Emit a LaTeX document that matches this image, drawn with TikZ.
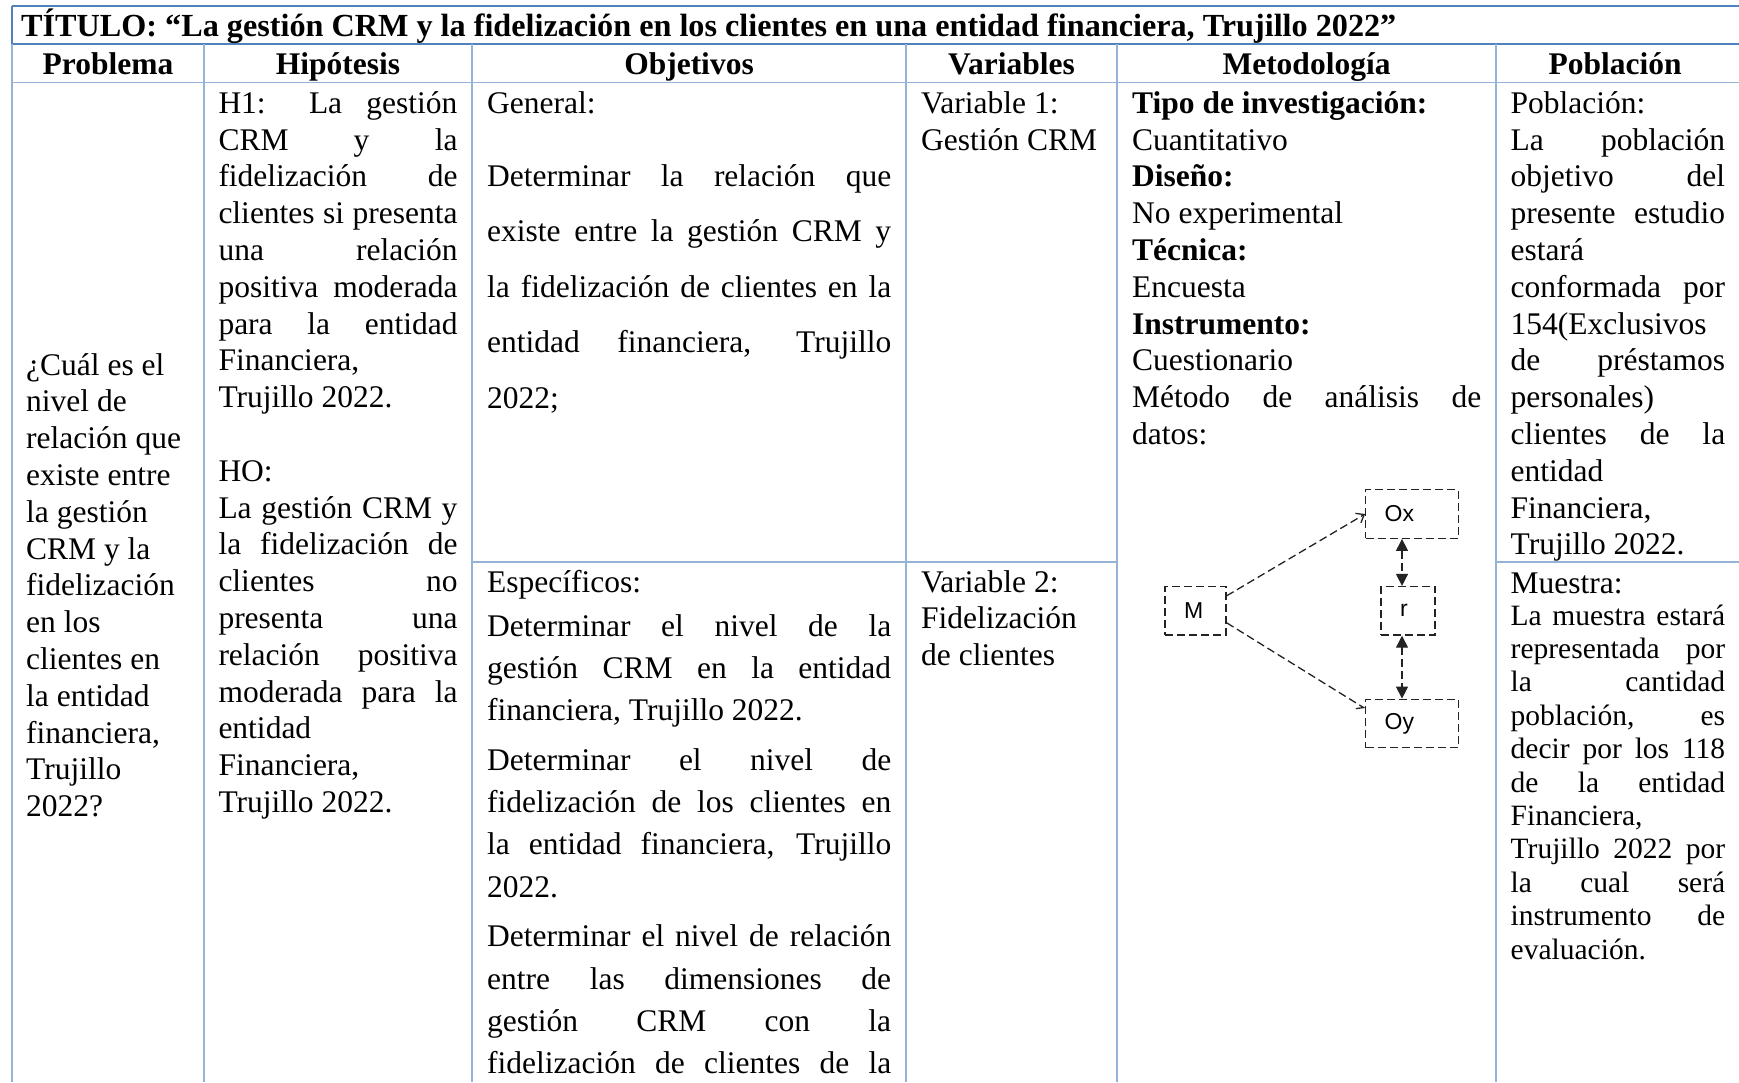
\documentclass[tikz,border=0pt]{standalone}
\usepackage{fontspec}
\setmainfont{Liberation Serif}
\newfontfamily\diagfont{Liberation Sans}
\usepackage{tikz}
\usetikzlibrary{arrows.meta}
\definecolor{lineblue}{RGB}{149, 179, 215}
\definecolor{titleblue}{RGB}{79, 129, 189}
\definecolor{dashgray}{RGB}{35, 35, 35}
\newcommand{\jl}[1]{{\spaceskip=0pt\xspaceskip=0pt\makebox[\hsize][s]{#1}}}

\begin{document}
\begin{tikzpicture}[x=1pt, y=-1pt,
    thinline/.style={draw=lineblue, line width=1.3pt},
    thickline/.style={draw=titleblue, line width=2pt},
    txt/.style={anchor=base west, inner sep=0pt, align=left, font=\fontsize{31.5}{36.8}\selectfont,
      execute at begin node={\spaceskip=0pt\xspaceskip=0pt}},
    hdr/.style={anchor=base, inner sep=0pt, font=\fontsize{31.5}{36.8}\selectfont\bfseries},
    dbox/.style={draw=dashgray, dash pattern=on 8pt off 4pt, line width=1.3pt, inner xsep=19pt, inner ysep=0pt,
      minimum height=48.5pt, text width=#1, align=left, font=\diagfont\fontsize{23}{26}\selectfont},
    dline/.style={draw=dashgray, dash pattern=on 8pt off 4pt, line width=1.3pt}]
  \useasboundingbox (0, 0) rectangle (1739, 1082);

  % Title row
  \draw[thickline] (12, 6) -- (1739, 6);
  \draw[thickline] (12, 43.7) -- (1739, 43.7);
  \draw[thickline] (12, 6) -- (12, 43.7);
  \node[hdr, anchor=base west, font=\fontsize{32.2}{36.8}\selectfont\bfseries] (title) at (21, 36.7) {TÍTULO: “La gestión CRM y la fidelización en los clientes en una entidad financiera, Trujillo 2022”};

  % Grid
  \draw[thinline] (12, 43.7) -- (12, 1082);
  \foreach \cx in {204, 472, 906, 1117, 1496} {
    \draw[thinline] (\cx, 43.7) -- (\cx, 1082);
  }
  \draw[thinline] (12, 82.3) -- (1739, 82.3);
  \draw[thinline] (472, 562) -- (1117, 562);
  \draw[thinline] (1496, 562) -- (1739, 562);

  % Header row
  \node[hdr] (hprob) at (108, 74) {Problema};
  \node[hdr] (hhip) at (338, 74) {Hipótesis};
  \node[hdr] (hobj) at (689, 74) {Objetivos};
  \node[hdr] (hvar) at (1011.5, 74) {Variables};
  \node[hdr] (hmet) at (1306.5, 74) {Metodología};
  \node[hdr] (hpob) at (1615, 74) {Población};

  % Problema
  \node[txt, text width=170] (prob) at (26, 375) {¿Cuál es el\\nivel de\\relación que\\existe entre\\la gestión\\CRM y la\\fidelización\\en los\\clientes en\\la entidad\\financiera,\\Trujillo\\2022?};

  % Hipotesis
  \node[txt, text width=239] (hip) at (218.3, 113.3) {\jl{H1: La gestión}\\\jl{CRM y la}\\\jl{fidelización de}\\\jl{clientes si presenta}\\\jl{una relación}\\\jl{positiva moderada}\\\jl{para la entidad}\\Financiera,\\Trujillo 2022.\\[36.8pt]HO:\\\jl{La gestión CRM y}\\\jl{la fidelización de}\\\jl{clientes no}\\\jl{presenta una}\\\jl{relación positiva}\\\jl{moderada para la}\\entidad\\Financiera,\\Trujillo 2022.};

  % Objetivos
  \node[txt] (objg) at (487, 113.3) {General:};
  \node[txt, text width=404, font=\fontsize{31.5}{55.5}\selectfont] (objgen) at (487, 186.3) {\jl{Determinar la relación que}\\\jl{existe entre la gestión CRM y}\\\jl{la fidelización de clientes en la}\\\jl{entidad financiera, Trujillo}\\2022;};
  \node[txt, text width=404, font=\fontsize{31.5}{42.1}\selectfont] (objesp) at (487, 592) {Específicos:\\[2.5pt]\jl{Determinar el nivel de la}\\\jl{gestión CRM en la entidad}\\financiera, Trujillo 2022.\\[7.8pt]\jl{Determinar el nivel de}\\\jl{fidelización de los clientes en}\\\jl{la entidad financiera, Trujillo}\\2022.\\[7.8pt]\jl{Determinar el nivel de relación}\\\jl{entre las dimensiones de}\\\jl{gestión CRM con la}\\\jl{fidelización de clientes de la}};

  % Variables
  \node[txt, text width=180] (var1) at (921, 113.3) {Variable 1:\\Gestión CRM};
  \node[txt, text width=180] (var2) at (921, 592) {Variable 2:\\Fidelización\\de clientes};

  % Metodologia
  \node[txt, text width=349] (met) at (1132, 113.3) {\textbf{Tipo de investigación:}\\Cuantitativo\\\textbf{Diseño:}\\No experimental\\\textbf{Técnica:}\\Encuesta\\\textbf{Instrumento:}\\Cuestionario\\\jl{Método de análisis de}\\datos:};

  % Design diagram
  \node[dbox=23pt] (M) at (1195.5, 610.8) {M};
  \node[dbox=54.6pt] (Ox) at (1412, 514) {Ox};
  \node[dbox=16pt] (r) at (1408, 610.8) {r};
  \node[dbox=54.6pt] (Oy) at (1412, 723.5) {Oy};
  \draw[dline, -{Straight Barb[length=7pt, width=11pt]}] ([yshift=15pt]M.east) -- (Ox.west);
  \draw[dline, -{Straight Barb[harpoon, swap, length=6pt, width=10pt]}] ([yshift=-12pt]M.east) -- ([yshift=15pt]Oy.west);
  \draw[dline, {Triangle[length=12pt, width=12pt]}-{Triangle[length=12pt, width=12pt]}] ([xshift=-6pt]r.north |- Ox.south) -- ([xshift=-6pt]r.north);
  \draw[dline, {Triangle[length=12pt, width=12pt]}-{Triangle[length=12pt, width=12pt]}] ([xshift=-6pt]r.south) -- ([xshift=-6pt]r.south |- Oy.north);

  % Poblacion
  \node[txt, text width=214.5] (pob) at (1510.5, 113.3) {Población:\\\jl{La población}\\\jl{objetivo del}\\\jl{presente estudio}\\estará\\\jl{conformada por}\\154(Exclusivos\\\jl{de préstamos}\\personales)\\\jl{clientes de la}\\entidad\\Financiera,\\Trujillo 2022.};
  \node[txt] (mueh) at (1510.5, 593.3) {Muestra:};
  \node[txt, text width=214.5, font=\fontsize{29.5}{33.4}\selectfont] (mue) at (1510.5, 625) {\jl{La muestra estará}\\\jl{representada por}\\\jl{la cantidad}\\\jl{población, es}\\\jl{decir por los 118}\\\jl{de la entidad}\\Financiera,\\\jl{Trujillo 2022 por}\\\jl{la cual será}\\\jl{instrumento de}\\evaluación.};
\end{tikzpicture}
\end{document}
